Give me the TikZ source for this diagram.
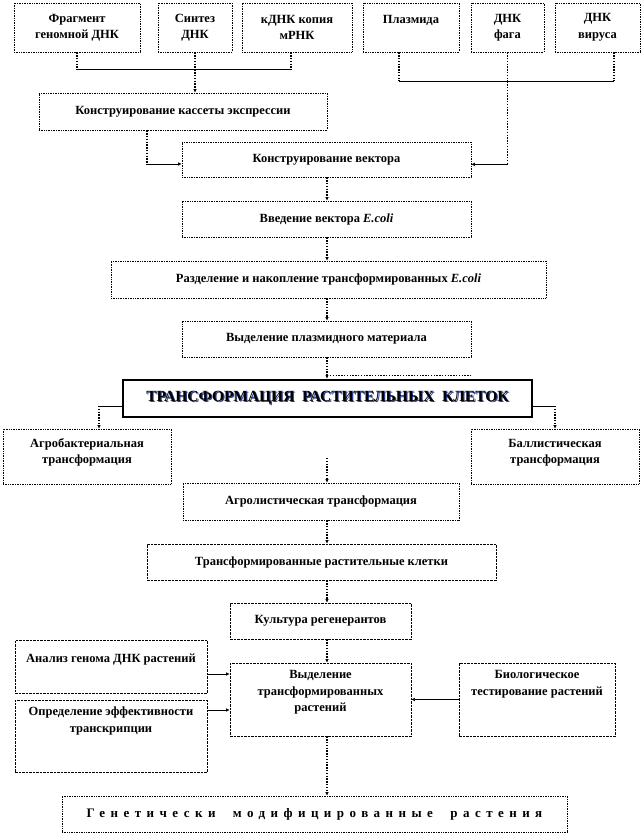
\documentclass[tikz,border=0pt]{standalone}
\usepackage{fontspec}
\setmainfont{Liberation Serif}
\newfontfamily\spacedfont[LetterSpace=42]{Liberation Serif}
\usetikzlibrary{arrows.meta,calc}
\definecolor{shadowblue}{RGB}{40,60,140}
\newcommand{\shadowed}[1]{\makebox[0pt][l]{\hspace{1.2pt}\raisebox{-1.2pt}{\textcolor{shadowblue}{#1}}}#1}

\begin{document}
\begin{tikzpicture}[x=1pt, y=-1pt,
    box/.style={draw, densely dotted, line width=0.7pt, align=center, inner sep=2pt, font=\fontsize{12.5}{16.5}\selectfont\bfseries},
    dbox/.style={box, dash pattern=on 2.5pt off 1pt},
    tbox/.style={draw, line width=2.5pt, align=center, font=\fontsize{15.5}{18}\selectfont\bfseries},
    dots/.style={line width=1.2pt, dash pattern=on 1.4pt off 1.4pt},
    link/.style={dots, -{Latex[length=3.5pt,width=3.5pt]}},
    arr/.style={line width=0.6pt, -{Latex[length=3.5pt,width=3.5pt]}}]
    \useasboundingbox (0,0) rectangle (642,834);
    \coordinate (ax) at (327,0);

    \foreach \nm/\cx/\bw/\txt in {frag/77/126/{Фрагмент\\геномной ДНК}, synth/195/74/{Синтез\\ДНК}, cdna/297/110/{кДНК копия\\мРНК},
        plasm/411/96/{Плазмида\\\mbox{}}, phage/507.5/73/{ДНК\\фага}, virus/597.5/85/{ДНК\\вируса}}
        \node[box, minimum width=\bw, minimum height=49] (\nm) at (\cx,27.5) {\txt};

    \node[box, minimum width=288, minimum height=37] (cassette) at (183,111.5) {Конструирование кассеты экспрессии};
    \node[box, minimum width=289, minimum height=35] (vector) at (326.5,159.5) {Конструирование вектора};
    \node[box, minimum width=289, minimum height=36] (ecoli) at (326.5,219) {Введение вектора \textit{E.coli}};
    \node[box, minimum width=435, minimum height=37] (sep) at (328.5,279.5) {Разделение и накопление трансформированных \textit{E.coli}};
    \node[box, minimum width=289, minimum height=36] (plasmat) at (326.5,339) {Выделение плазмидного материала};
    \node[tbox, minimum width=409, minimum height=37] (title) at (327.5,398.5) {\shadowed{ТРАНСФОРМАЦИЯ\ \ РАСТИТЕЛЬНЫХ\ \ КЛЕТОК}};
    \node[box, minimum width=168, minimum height=55] (agro) at (87,456.5) {Агробактериальная\\трансформация\\[-6pt]\mbox{}};
    \node[box, minimum width=168, minimum height=55] (ball) at (555,456.5) {Баллистическая\\трансформация\\[-6pt]\mbox{}};
    \node[box, minimum width=276, minimum height=37] (agrolist) at (321,501.5) {Агролистическая трансформация};
    \node[dbox, minimum width=349, minimum height=36] (tcells) at (321.5,562) {Трансформированные растительные клетки};
    \node[dbox, minimum width=181, minimum height=36] (culture) at (320.5,621) {Культура регенерантов};
    \node[dbox, minimum width=181, minimum height=73] (selection) at (320.5,699.5) {Выделение\\трансформированных\\растений\\\mbox{}};
    \node[dbox, minimum width=192, minimum height=53] (analysis) at (111,666.5) {Анализ генома ДНК растений\\\mbox{}};
    \node[dbox, minimum width=192, minimum height=72] (effic) at (111,736) {Определение эффективности\\транскрипции\\\mbox{}\\\mbox{}};
    \node[dbox, minimum width=156, minimum height=73] (bio) at (537,699.5) {Биологическое\\тестирование растений\\\mbox{}\\\mbox{}};
    \node[box, minimum width=505, minimum height=36, font=\fontsize{13}{15}\selectfont\bfseries\spacedfont] (final) at (314.5,814) {Генетически\ \ модифицированные\ \ растения};

    \coordinate (j1) at ($(synth.south)+(0,17)$); \coordinate (j2) at ($(phage.south)+(0,29)$);
    \draw[dots] (frag.south) -- (frag.south |- j1) (synth.south) -- (j1) ([xshift=-6pt]cdna.south) coordinate (c1) -- (c1 |- j1);
    \draw[line width=0.6pt] (frag.south |- j1) -- (c1 |- j1);
    \draw[link] (j1) -- (j1 |- cassette.north);
    \draw[dots] ([xshift=-12pt]plasm.south) coordinate (p1) -- (p1 |- j2) (phage.south) -- (j2) ([xshift=16.5pt]virus.south) coordinate (v1) -- (v1 |- j2);
    \draw[line width=0.6pt] (p1 |- j2) -- (v1 |- j2);

    \coordinate (k1) at (147,164); \coordinate (k2) at ($(j2)+(0,83)$);
    \draw[dots] (k1 |- cassette.south) -- (k1); \draw[arr] (k1) -- (k1 -| vector.west);
    \draw[dots] (j2) -- (k2); \draw[arr] (k2) -- (k2 -| vector.east);

    \foreach \a/\b in {vector/ecoli, ecoli/sep, sep/plasmat, plasmat/title, agrolist/tcells, tcells/culture, culture/selection, selection/final}
        \draw[link] (ax |- \a.south) -- (ax |- \b.north);
    \draw[dots] ($(ax |- title.north)+(3,-3)$) -- ($(plasmat.east |- title.north)+(0,-3)$);

    \coordinate (t1) at ($(title.west)+(0,7.5)$); \coordinate (t2) at ($(title.east)+(0,7.5)$); \coordinate (a1) at ($(agro.north)+(12,0)$);
    \draw[line width=0.6pt] (t1) -- (a1 |- t1); \draw[link] (a1 |- t1) -- (a1);
    \draw[line width=0.6pt] (t2) -- (ball.north |- t2); \draw[link] (ball.north |- t2) -- (ball.north);
    \coordinate (f1) at (327,458);
    \draw[link] (f1) -- (f1 |- agrolist.north);

    \draw[arr] ($(analysis.east)+(0,7.5)$) coordinate (e1) -- (e1 -| selection.west);
    \draw[arr] ($(effic.east)+(0,-26)$) coordinate (e2) -- (e2 -| selection.west);
    \draw[arr] (bio.west) -- (bio.west -| selection.east);
\end{tikzpicture}
\end{document}
